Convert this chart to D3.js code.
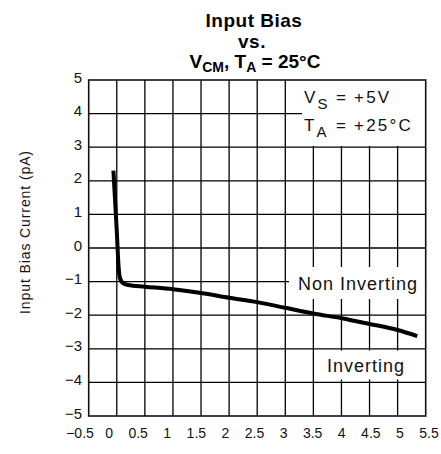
<!DOCTYPE html>
<meta charset="utf-8">
<style>

body {
  margin: 0;
  background: #fff;
}

.grid line {
  stroke: #000;
  stroke-width: 1.3px;
}

.frame {
  fill: none;
  stroke: #111;
  stroke-width: 1.6px;
}

.curve {
  fill: none;
  stroke: #000;
  stroke-width: 4px;
  stroke-linejoin: round;
}

.tick-label, .note, .axis-title {
  font-family: "Liberation Sans", Arial, sans-serif;
  fill: #111;
}

.title {
  font-family: "Liberation Sans", Arial, sans-serif;
  font-weight: bold;
  fill: #000;
}

</style>
<body>
<script src="https://cdn.jsdelivr.net/npm/d3@7"></script>
<script>

var width = 441,
    height = 454;

// axis ticks
var xTicks = [-0.5, 0, 0.5, 1, 1.5, 2, 2.5, 3, 3.5, 4, 4.5, 5, 5.5];
var yTicks = [5, 4, 3, 2, 1, 0, -1, -2, -3, -4, -5];

// input bias current (pA) vs common mode voltage (V)
var vcm  = [-0.06, -0.05, -0.03, 0.0, 0.03, 0.05, 0.1, 0.2, 0.5, 1.0, 1.5, 2.0, 2.5, 3.0, 3.5, 4.0, 4.5, 5.0, 5.35];
var ibias = [2.3, 2.0, 1.4, 0.5, -0.5, -0.85, -1.03, -1.1, -1.15, -1.23, -1.34, -1.48, -1.61, -1.78, -1.95, -2.09, -2.26, -2.44, -2.62];

var margin = {left: 88.7, right: 15.3, top: 80, bottom: 38};

var x = d3.scaleLinear()
    .domain([-0.5, 5.5])
    .range([margin.left, width - margin.right]);

// the printed x labels are spread a bit wider than the grid
var xLabel = d3.scaleLinear()
    .domain([-0.5, 5.5])
    .range([80, 429]);

var y = d3.scaleLinear()
    .domain([-5, 5])
    .range([height - margin.bottom, margin.top]);

var svg = d3.select("body").append("svg")
    .attr("width", width)
    .attr("height", height);

// title
var title = svg.append("text")
    .attr("class", "title")
    .attr("text-anchor", "middle")
    .attr("font-size", 19)
    .attr("letter-spacing", 0.5);

title.append("tspan").attr("x", 254).attr("y", 27).text("Input Bias");
title.append("tspan").attr("x", 252).attr("y", 48).text("vs.");

var t3 = svg.append("text")
    .attr("class", "title")
    .attr("text-anchor", "middle")
    .attr("x", 255)
    .attr("y", 68)
    .attr("font-size", 19);
t3.append("tspan").text("V");
t3.append("tspan").attr("font-size", 14).attr("dy", 4).text("CM");
t3.append("tspan").attr("dy", -4).text(", T");
t3.append("tspan").attr("font-size", 14).attr("dy", 4).text("A");
t3.append("tspan").attr("dy", -4).text(" = 25°C");

// grid
var grid = svg.append("g").attr("class", "grid");

grid.selectAll(".v")
    .data(xTicks.slice(1, -1))
  .enter().append("line")
    .attr("x1", function(d) { return x(d); })
    .attr("x2", function(d) { return x(d); })
    .attr("y1", y(5))
    .attr("y2", y(-5));

grid.selectAll(".h")
    .data(yTicks.slice(1, -1))
  .enter().append("line")
    .attr("x1", x(-0.5))
    .attr("x2", x(5.5))
    .attr("y1", function(d) { return y(d); })
    .attr("y2", function(d) { return y(d); });

// white boxes behind the notes
svg.append("rect").attr("x", 302).attr("y", y(5)).attr("width", x(5.5) - 302).attr("height", 146 - y(5)).attr("fill", "#fff");
svg.append("rect").attr("x", 289).attr("y", 267).attr("width", x(5.5) - 289).attr("height", 32).attr("fill", "#fff");
svg.append("rect").attr("x", x(3.5) + 1).attr("y", 350.5).attr("width", x(5.5) - x(3.5) - 1).attr("height", 29).attr("fill", "#fff");

svg.append("rect")
    .attr("class", "frame")
    .attr("x", x(-0.5))
    .attr("y", y(5))
    .attr("width", x(5.5) - x(-0.5))
    .attr("height", y(-5) - y(5));

// curve
var line = d3.line()
    .x(function(d, i) { return x(vcm[i]); })
    .y(function(d) { return y(d); })
    .curve(d3.curveMonotoneX);

svg.append("path")
    .datum(ibias)
    .attr("class", "curve")
    .attr("d", line);

// tick labels
function fmt(d) { return (d < 0 ? "\u2212" : "") + Math.abs(d); }

svg.selectAll(".xl")
    .data(xTicks)
  .enter().append("text")
    .attr("class", "tick-label")
    .attr("x", function(d) { return xLabel(d); })
    .attr("y", 438)
    .attr("text-anchor", "middle")
    .attr("font-size", 14)
    .text(fmt);

svg.selectAll(".yl")
    .data(yTicks)
  .enter().append("text")
    .attr("class", "tick-label")
    .attr("x", 82)
    .attr("y", function(d) { return y(d) + 2.5; })
    .attr("text-anchor", "end")
    .attr("font-size", 15)
    .text(fmt);

svg.append("text")
    .attr("class", "axis-title")
    .attr("transform", "translate(30,232) rotate(-90)")
    .attr("text-anchor", "middle")
    .attr("font-size", 14)
    .attr("letter-spacing", 0.9)
    .text("Input Bias Current (pA)");

// notes
function note(px, py, main, sub, rest) {
  var t = svg.append("text")
      .attr("class", "note")
      .attr("x", px)
      .attr("y", py)
      .attr("font-size", 17)
      .attr("letter-spacing", 2.2);
  t.append("tspan").text(main);
  t.append("tspan").attr("font-size", 15).attr("dy", 6).text(sub);
  t.append("tspan").attr("x", 336).attr("dy", -6).text("=");
  t.append("tspan").attr("x", 354).text(rest);
}

note(304, 103, "V", "S", "+5V");
note(304, 131, "T", "A", "+25\u00b0C");

svg.append("text")
    .attr("class", "note")
    .attr("x", 298)
    .attr("y", 290)
    .attr("font-size", 18)
    .attr("letter-spacing", 1)
    .text("Non Inverting");

svg.append("text")
    .attr("class", "note")
    .attr("x", 327)
    .attr("y", 372)
    .attr("font-size", 18)
    .attr("letter-spacing", 1)
    .text("Inverting");

</script>
